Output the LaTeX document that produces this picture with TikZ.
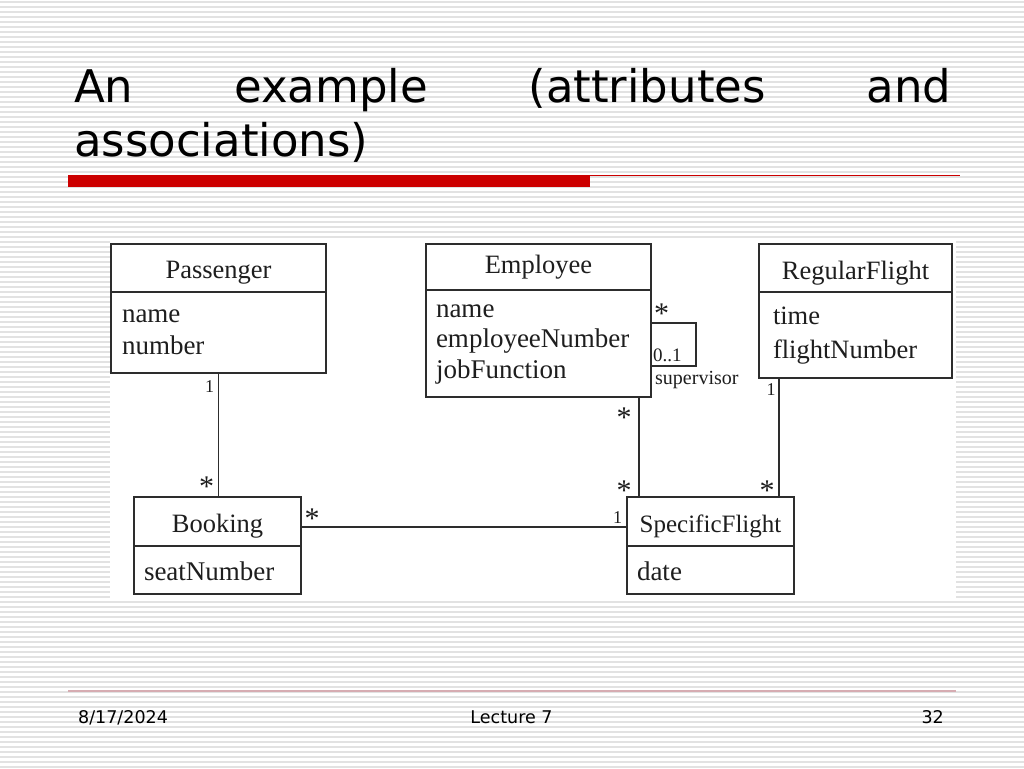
\documentclass[tikz,border=0pt]{standalone}
\usepackage{fontspec}
\setmainfont{Liberation Serif}
\newfontfamily\slidefont{DejaVu Sans}
\usetikzlibrary{positioning, calc}
\definecolor{cStripe}{RGB}{226, 226, 226}
\definecolor{cRed}{RGB}{204, 0, 0}
\definecolor{cFoot}{RGB}{214, 172, 178}
\definecolor{bLine}{RGB}{45, 45, 45}
\definecolor{tDark}{RGB}{30, 30, 30}

\begin{document}
\begin{tikzpicture}[
    x=1pt, y=-1pt,
    stripe/.style={draw=cStripe, line width=2pt},
    umlhead/.style={
        draw=bLine,
        line width=2pt,
        text=tDark,
        inner sep=0pt,
        outer sep=0pt,
        minimum width=#1,
        font=\fontsize{26.5}{30}\selectfont
    },
    umlbody/.style={
        draw=bLine,
        line width=2pt,
        text=tDark,
        inner ysep=0pt,
        inner xsep=10pt,
        outer sep=0pt,
        align=left,
        text width=#1,
        font=\fontsize{27}{32}\selectfont
    },
    assoc/.style={draw=bLine, line width=1.8pt},
    mult/.style={text=tDark, inner sep=0pt, anchor=base, font=\fontsize{18}{18}\selectfont},
    star/.style={mult, font=\fontsize{30}{30}\selectfont},
    title/.style={inner sep=0pt, anchor=base west, font=\slidefont\fontsize{45}{54}\selectfont},
    foot/.style={inner sep=0pt, font=\slidefont\fontsize{17.5}{20}\selectfont}
]
\useasboundingbox (0,0) rectangle (1024,768);
\fill[white] (0,0) rectangle (1024,768);

% Slide background
\foreach \y in {2,7,...,767}
    \draw[stripe] (0,\y) -- (1024,\y);

% Title
\node[title] (title1) at (74,102) {\hbox to 877pt{An\hfill example\hfill (attributes\hfill and}};
\node[title] (title2) at (74,156) {associations)};
\fill[cRed] (68,175) rectangle (590,187);
\draw[cRed, line width=1.5pt] (590,175.5) -- (960,175.5);

% Diagram area
\fill[white] (110,238) rectangle (956,598);

% Classes
\node[umlhead=215pt, text height=34pt, text depth=14pt, anchor=north west] (pas_head) at (111,244) {Passenger};
\node[umlbody=193pt, inner xsep=11pt, text height=30pt, text depth=51pt, below=0pt of pas_head] (pas_body) {name\\number};

\node[umlhead=225pt, text height=29pt, text depth=17pt, anchor=north west] (emp_head) at (426,244) {Employee};
\node[umlbody=205pt, text height=27pt, text depth=80pt, below=0pt of emp_head,
      font=\fontsize{27}{30.5}\selectfont] (emp_body) {name\\employeeNumber\\jobFunction};

\node[umlhead=193pt, text height=35pt, text depth=13pt, anchor=north west] (reg_head) at (759,244) {RegularFlight};
\node[umlbody=165pt, inner xsep=14pt, text height=32pt, text depth=54pt, below=0pt of reg_head,
      font=\fontsize{26.5}{34}\selectfont] (reg_body) {time\\flightNumber};

\node[umlhead=167pt, text height=35pt, text depth=14pt, anchor=north west] (bok_head) at (134,497) {Booking};
\node[umlbody=147pt, text height=34pt, text depth=14pt, below=0pt of bok_head] (bok_body) {seatNumber};

\node[umlhead=167pt, text height=35pt, text depth=14pt, anchor=north west,
      font=\fontsize{25}{30}\selectfont] (spf_head) at (627,497) {SpecificFlight};
\node[umlbody=147pt, text height=34pt, text depth=14pt, below=0pt of spf_head] (spf_body) {date};

% Associations
\coordinate (emp_spf) at ([xshift=12pt]spf_head.north west);
\coordinate (reg_spf) at ([xshift=-15pt]spf_head.north east);
\coordinate (sup_a) at ([yshift=20.5pt]emp_body.east);
\coordinate (sup_b) at ([yshift=-22.5pt]emp_body.east);

\draw[assoc] (pas_body.south) -- (pas_body.south |- bok_head.north);
\draw[assoc] ([yshift=-5.5pt]bok_head.east) -- ([yshift=-5.5pt]bok_head.east -| spf_head.west);
\draw[assoc] (emp_spf) -- (emp_spf |- emp_body.south);
\draw[assoc] (reg_spf) -- (reg_spf |- reg_body.south);
\draw[assoc] (sup_a) -- ++(45,0) |- (sup_b);

% Multiplicities
\node[mult] (m_pas) at (209.5,392) {1};
\node[star] (m_bok1) at (206.5,496) {*};
\node[star] (m_bok2) at (312,528) {*};
\node[mult] (m_spf1) at (617.5,523) {1};
\node[star] (m_emp1) at (624,427) {*};
\node[star] (m_spf2) at (624,500) {*};
\node[mult] (m_reg) at (771,395) {1};
\node[star] (m_spf3) at (767,500) {*};
\node[star] (m_emp2) at (661.5,323) {*};
\node[mult, anchor=base west, font=\fontsize{19}{19}\selectfont] (m_sup) at (653,361) {0..1};
\node[mult, anchor=base west, font=\fontsize{20}{20}\selectfont] (role) at (655,384) {supervisor};

% Footer
\draw[cFoot, line width=1.2pt] (68,691) -- (956,691);
\node[foot, anchor=base west] (date) at (78,723) {8/17/2024};
\node[foot, anchor=base] (lecture) at (511.5,723) {Lecture 7};
\node[foot, anchor=base east] (pnum) at (944,723) {32};

\end{tikzpicture}
\end{document}
